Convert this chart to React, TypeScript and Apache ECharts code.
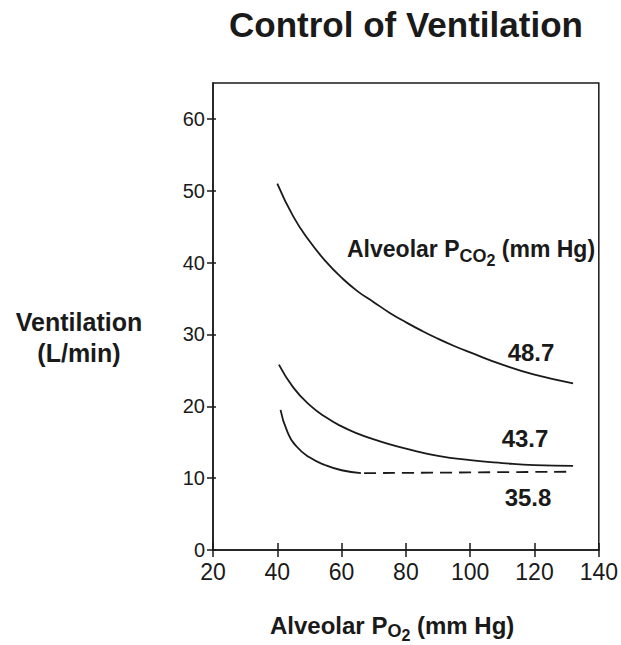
import React, { useEffect, useRef } from "react";
import * as echarts from "echarts";

// ---- data ----
const xTicks = [20, 40, 60, 80, 100, 120, 140];
const yTicks = [0, 10, 20, 30, 40, 50, 60];

const pco2_487_x = [40, 45, 50, 55, 60, 65, 70, 75, 80, 85, 90, 95, 100, 110, 120, 132];
const pco2_487_y = [51, 46.4, 43.0, 40.2, 37.9, 36.0, 34.5, 33.0, 31.7, 30.5, 29.4, 28.4, 27.5, 25.8, 24.4, 23.2];

const pco2_437_x = [40.5, 45, 50, 55, 60, 65, 70, 75, 80, 90, 100, 110, 120, 132];
const pco2_437_y = [25.8, 22.6, 20.2, 18.5, 17.2, 16.2, 15.4, 14.7, 14.1, 13.1, 12.5, 12.1, 11.8, 11.7];

const pco2_358_solid_x = [41, 43, 46, 50, 55, 60, 66];
const pco2_358_solid_y = [19.5, 16.6, 14.4, 12.9, 11.8, 11.1, 10.7];
const pco2_358_dash_x = [67, 100, 132];
const pco2_358_dash_y = [10.7, 10.8, 10.9];

const curveLabels = ["48.7", "43.7", "35.8"];

const zip = (xs: number[], ys: number[]) => xs.map((x, i) => [x, ys[i]]);

const BOLD = "'Liberation Sans', Arial, Helvetica, sans-serif";
const NARROW = "'Liberation Sans Narrow', 'Arial Narrow', 'Liberation Sans', sans-serif";
const INK = "#1a1a1a";

function measure(text: string, size: number): number {
  const c = document.createElement("canvas").getContext("2d");
  if (!c) return text.length * size * 0.55;
  c.font = `bold ${size}px ${BOLD}`;
  return c.measureText(text).width;
}

// builds pieces of a label with subscripts; baseline-based placement
function subLabel(
  startX: number,
  baseline: number,
  parts: { t: string; size: number; drop: number }[]
) {
  const els: any[] = [];
  let x = startX;
  for (const p of parts) {
    els.push({
      type: "text",
      x,
      y: baseline + p.drop - p.size * 0.35,
      style: {
        text: p.t,
        font: `bold ${p.size}px ${BOLD}`,
        fill: INK,
        align: "left",
        verticalAlign: "middle",
      },
    });
    x += measure(p.t, p.size);
  }
  return els;
}

export default function App() {
  const ref = useRef<HTMLDivElement>(null);

  useEffect(() => {
    if (!ref.current) return;
    const chart = echarts.init(ref.current, null, { renderer: "svg" });

    const lineStyle = { color: INK, width: 1.8 };

    const graphics: any[] = [
      {
        type: "text",
        x: 406,
        y: 24,
        style: {
          text: "Control of Ventilation",
          font: `bold 35px ${BOLD}`,
          fill: INK,
          align: "center",
          verticalAlign: "middle",
        },
      },
      {
        type: "text",
        x: 79,
        y: 322,
        style: {
          text: "Ventilation",
          font: `bold 25px ${BOLD}`,
          fill: INK,
          align: "center",
          verticalAlign: "middle",
        },
      },
      {
        type: "text",
        x: 79,
        y: 353,
        style: {
          text: "(L/min)",
          font: `bold 25px ${BOLD}`,
          fill: INK,
          align: "center",
          verticalAlign: "middle",
        },
      },
      {
        type: "text",
        x: 531,
        y: 352,
        style: { text: curveLabels[0], font: `bold 24px ${BOLD}`, fill: INK, align: "center", verticalAlign: "middle" },
      },
      {
        type: "text",
        x: 525,
        y: 438,
        style: { text: curveLabels[1], font: `bold 24px ${BOLD}`, fill: INK, align: "center", verticalAlign: "middle" },
      },
      {
        type: "text",
        x: 528,
        y: 497,
        style: { text: curveLabels[2], font: `bold 24px ${BOLD}`, fill: INK, align: "center", verticalAlign: "middle" },
      },
      ...subLabel(347, 257, [
        { t: "Alveolar P", size: 23, drop: 0 },
        { t: "CO", size: 18, drop: 5 },
        { t: "2", size: 16, drop: 9 },
        { t: " (mm Hg)", size: 23, drop: 0 },
      ]),
      ...subLabel(270, 634, [
        { t: "Alveolar P", size: 24, drop: 0 },
        { t: "O", size: 18, drop: 3 },
        { t: "2", size: 16, drop: 7 },
        { t: " (mm Hg)", size: 24, drop: 0 },
      ]),
    ];

    chart.setOption({
      animation: false,
      backgroundColor: "#ffffff",
      grid: {
        left: 213,
        right: 14,
        top: 83,
        bottom: 95,
        show: true,
        borderColor: INK,
        borderWidth: 1.5,
        backgroundColor: "transparent",
      },
      xAxis: [
        {
          type: "value",
          min: 20,
          max: 140,
          interval: 20,
          position: "bottom",
          splitLine: { show: false },
          axisLine: { show: true, lineStyle: { color: INK, width: 1.5 } },
          axisTick: { show: true, inside: false, length: 7, lineStyle: { color: INK, width: 1.5 } },
          axisLabel: {
            margin: 10,
            fontFamily: NARROW,
            fontSize: 23,
            color: INK,
            customValues: xTicks,
          },
        },
        {
          type: "value",
          min: 20,
          max: 140,
          interval: 20,
          position: "bottom",
          splitLine: { show: false },
          axisLine: { show: false },
          axisTick: { show: true, inside: true, length: 7, lineStyle: { color: INK, width: 1.5 } },
          axisLabel: { show: false },
        },
      ],
      yAxis: [
        {
          type: "value",
          min: 0,
          max: 65,
          interval: 10,
          position: "left",
          splitLine: { show: false },
          axisLine: { show: true, lineStyle: { color: INK, width: 1.5 } },
          axisTick: { show: true, inside: false, length: 6, lineStyle: { color: INK, width: 1.5 }, customValues: yTicks },
          axisLabel: {
            margin: 8,
            fontFamily: NARROW,
            fontSize: 20,
            color: INK,
            customValues: yTicks,
          },
        },
        {
          type: "value",
          min: 0,
          max: 65,
          interval: 10,
          position: "left",
          splitLine: { show: false },
          axisLine: { show: false },
          axisTick: { show: true, inside: true, length: 3, lineStyle: { color: INK, width: 1.5 }, customValues: yTicks },
          axisLabel: { show: false },
        },
      ],
      series: [
        {
          type: "line",
          name: "48.7",
          data: zip(pco2_487_x, pco2_487_y),
          smooth: 0.5,
          showSymbol: false,
          symbol: "none",
          lineStyle,
        },
        {
          type: "line",
          name: "43.7",
          data: zip(pco2_437_x, pco2_437_y),
          smooth: 0.5,
          showSymbol: false,
          symbol: "none",
          lineStyle,
        },
        {
          type: "line",
          name: "35.8",
          data: zip(pco2_358_solid_x, pco2_358_solid_y),
          smooth: 0.5,
          showSymbol: false,
          symbol: "none",
          lineStyle,
        },
        {
          type: "line",
          name: "35.8 dashed",
          data: zip(pco2_358_dash_x, pco2_358_dash_y),
          smooth: 0.5,
          showSymbol: false,
          symbol: "none",
          lineStyle: { ...lineStyle, type: [12, 7] },
        },
      ],
      graphic: graphics,
    });

    return () => chart.dispose();
  }, []);

  return (
    <div
      ref={ref}
      style={{ position: "fixed", left: 0, top: 0, width: 621, height: 645, background: "#fff" }}
    />
  );
}
